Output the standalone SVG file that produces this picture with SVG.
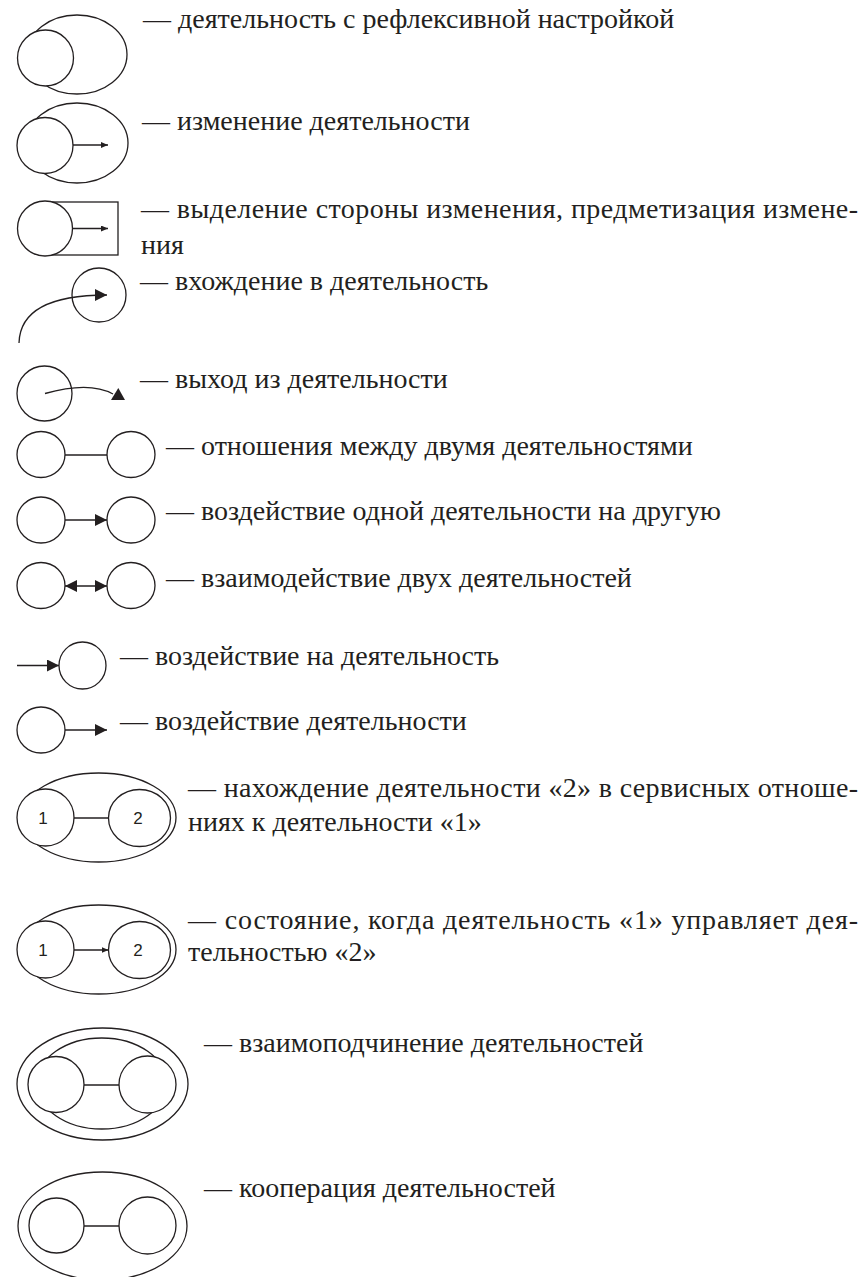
<svg xmlns="http://www.w3.org/2000/svg" width="868" height="1277" viewBox="0 0 868 1277" font-family="'Liberation Serif', 'Times New Roman', serif">
<style>
.s{fill:none;stroke:#231f20;stroke-width:1.3}
.w{fill:#fff;stroke:#231f20;stroke-width:1.3}
.l{fill:none;stroke:#231f20;stroke-width:1.3}
.h{fill:#231f20}
</style>
<defs>
<marker id="big" viewBox="0 0 12 12" refX="12" refY="6" markerWidth="12" markerHeight="12" markerUnits="userSpaceOnUse" orient="auto-start-reverse"><path d="M0,0 L12,6 L0,12 z" fill="#231f20"/></marker>
<marker id="small" viewBox="0 0 7 6" refX="7" refY="3" markerWidth="7" markerHeight="6" markerUnits="userSpaceOnUse" orient="auto"><path d="M0,0 L7,3 L0,6 z" fill="#231f20"/></marker>
</defs>

<g id="node1">
<ellipse class="s" cx="77" cy="54.5" rx="50" ry="39.5"/>
<circle class="w" cx="45.5" cy="58" r="28"/>
<text font-size="28" fill="#231f20" x="143" y="28">— деятельность с рефлексивной настройкой</text>
</g>

<g id="node2">
<ellipse class="s" cx="77" cy="143" rx="51" ry="40"/>
<circle class="w" cx="45" cy="145.5" r="28"/>
<text font-size="28" fill="#231f20" x="142" y="130">— изменение деятельности</text>
</g>

<g id="node3">
<rect class="s" x="45" y="202" width="73" height="53"/>
<circle class="w" cx="45" cy="228.5" r="27.5"/>
<text font-size="28" fill="#231f20" x="141" y="218" textLength="717" lengthAdjust="spacing">— выделение стороны изменения, предметизация измене-</text>
<text font-size="28" fill="#231f20" x="141" y="254">ния</text>
</g>

<g id="node4">
<circle class="s" cx="99" cy="295" r="27"/>
<text font-size="28" fill="#231f20" x="140" y="290">— вхождение в деятельность</text>
</g>

<g id="node5">
<circle class="s" cx="44.5" cy="393.5" r="27.5"/>
<polygon class="h" points="111,400 125,400 118.3,388"/>
<text font-size="28" fill="#231f20" x="140" y="388">— выход из деятельности</text>
</g>

<g id="node6">
<ellipse class="s" cx="41" cy="454.5" rx="24" ry="23"/>
<ellipse class="s" cx="131" cy="454.5" rx="24" ry="23"/>
<text font-size="28" fill="#231f20" x="166" y="455">— отношения между двумя деятельностями</text>
</g>

<g id="node7">
<ellipse class="s" cx="41" cy="520" rx="24" ry="23"/>
<ellipse class="s" cx="131" cy="520" rx="24" ry="23"/>
<text font-size="28" fill="#231f20" x="166" y="520">— воздействие одной деятельности на другую</text>
</g>

<g id="node8">
<ellipse class="s" cx="41" cy="585.5" rx="24" ry="23"/>
<ellipse class="s" cx="131" cy="585.5" rx="24" ry="23"/>
<text font-size="28" fill="#231f20" x="166" y="587">— взаимодействие двух деятельностей</text>
</g>

<g id="node9">
<ellipse class="s" cx="82.5" cy="665.5" rx="23.5" ry="23.5"/>
<text font-size="28" fill="#231f20" x="120" y="665">— воздействие на деятельность</text>
</g>

<g id="node10">
<ellipse class="s" cx="41" cy="730" rx="24" ry="23"/>
<text font-size="28" fill="#231f20" x="120" y="730">— воздействие деятельности</text>
</g>

<g id="node11">
<ellipse class="s" cx="98.7" cy="817.5" rx="77.3" ry="44.5"/>
<circle class="w" cx="45.5" cy="817.5" r="28.5"/>
<ellipse class="w" cx="139.5" cy="818" rx="31" ry="28.5"/>
<text font-family="'Liberation Sans', Arial, sans-serif" font-size="17" fill="#231f20" text-anchor="middle" x="43" y="824">1</text>
<text font-family="'Liberation Sans', Arial, sans-serif" font-size="17" fill="#231f20" text-anchor="middle" x="138" y="824">2</text>
<text font-size="28" fill="#231f20" x="188" y="797" textLength="670" lengthAdjust="spacing">— нахождение деятельности «2» в сервисных отноше-</text>
<text font-size="28" fill="#231f20" x="188" y="831">ниях к деятельности «1»</text>
</g>

<g id="node12">
<ellipse class="s" cx="98.7" cy="949.5" rx="77.3" ry="44.5"/>
<circle class="w" cx="45.5" cy="949.5" r="28.5"/>
<ellipse class="w" cx="139.5" cy="950" rx="31" ry="28.5"/>
<text font-family="'Liberation Sans', Arial, sans-serif" font-size="17" fill="#231f20" text-anchor="middle" x="43" y="956">1</text>
<text font-family="'Liberation Sans', Arial, sans-serif" font-size="17" fill="#231f20" text-anchor="middle" x="138" y="956">2</text>
<text font-size="28" fill="#231f20" x="188" y="929" textLength="670" lengthAdjust="spacing">— состояние, когда деятельность «1» управляет дея-</text>
<text font-size="28" fill="#231f20" x="188" y="961">тельностью «2»</text>
</g>

<g id="node13">
<ellipse class="s" cx="102.5" cy="1084" rx="85.5" ry="56"/>
<ellipse class="s" cx="101.75" cy="1083.5" rx="65" ry="45.5"/>
<circle class="w" cx="56" cy="1084.5" r="28"/>
<circle class="w" cx="147.5" cy="1084.5" r="28.5"/>
<text font-size="28" fill="#231f20" x="204" y="1052">— взаимоподчинение деятельностей</text>
</g>

<g id="node14">
<ellipse class="s" cx="102.5" cy="1226" rx="84.5" ry="54"/>
<circle class="w" cx="56.5" cy="1225.5" r="27.5"/>
<circle class="w" cx="147.5" cy="1225.5" r="28.5"/>
<text font-size="28" fill="#231f20" x="204" y="1197">— кооперация деятельностей</text>
</g>

<g id="connectors">
<line class="l" x1="73" y1="145" x2="108" y2="145" marker-end="url(#small)"/>
<line class="l" x1="72.5" y1="228.5" x2="108" y2="228.5" marker-end="url(#small)"/>
<path class="l" d="M19,343 C20,306 60,295 107,295" marker-end="url(#big)"/>
<path class="l" d="M45,393.5 C68,387 95,384 113,394"/>
<line class="l" x1="65" y1="455" x2="107" y2="455"/>
<line class="l" x1="65" y1="520" x2="107" y2="520" marker-end="url(#big)"/>
<line class="l" x1="65" y1="586" x2="107" y2="586" marker-start="url(#big)" marker-end="url(#big)"/>
<line class="l" x1="17" y1="665.5" x2="59" y2="665.5" marker-end="url(#big)"/>
<line class="l" x1="65" y1="730" x2="107" y2="730" marker-end="url(#big)"/>
<line class="l" x1="74" y1="818" x2="108.5" y2="818"/>
<line class="l" x1="74" y1="950" x2="108.5" y2="950" marker-end="url(#small)"/>
<line class="l" x1="84" y1="1085" x2="119" y2="1085"/>
<line class="l" x1="84" y1="1226" x2="119" y2="1226"/>
</g>
</svg>
